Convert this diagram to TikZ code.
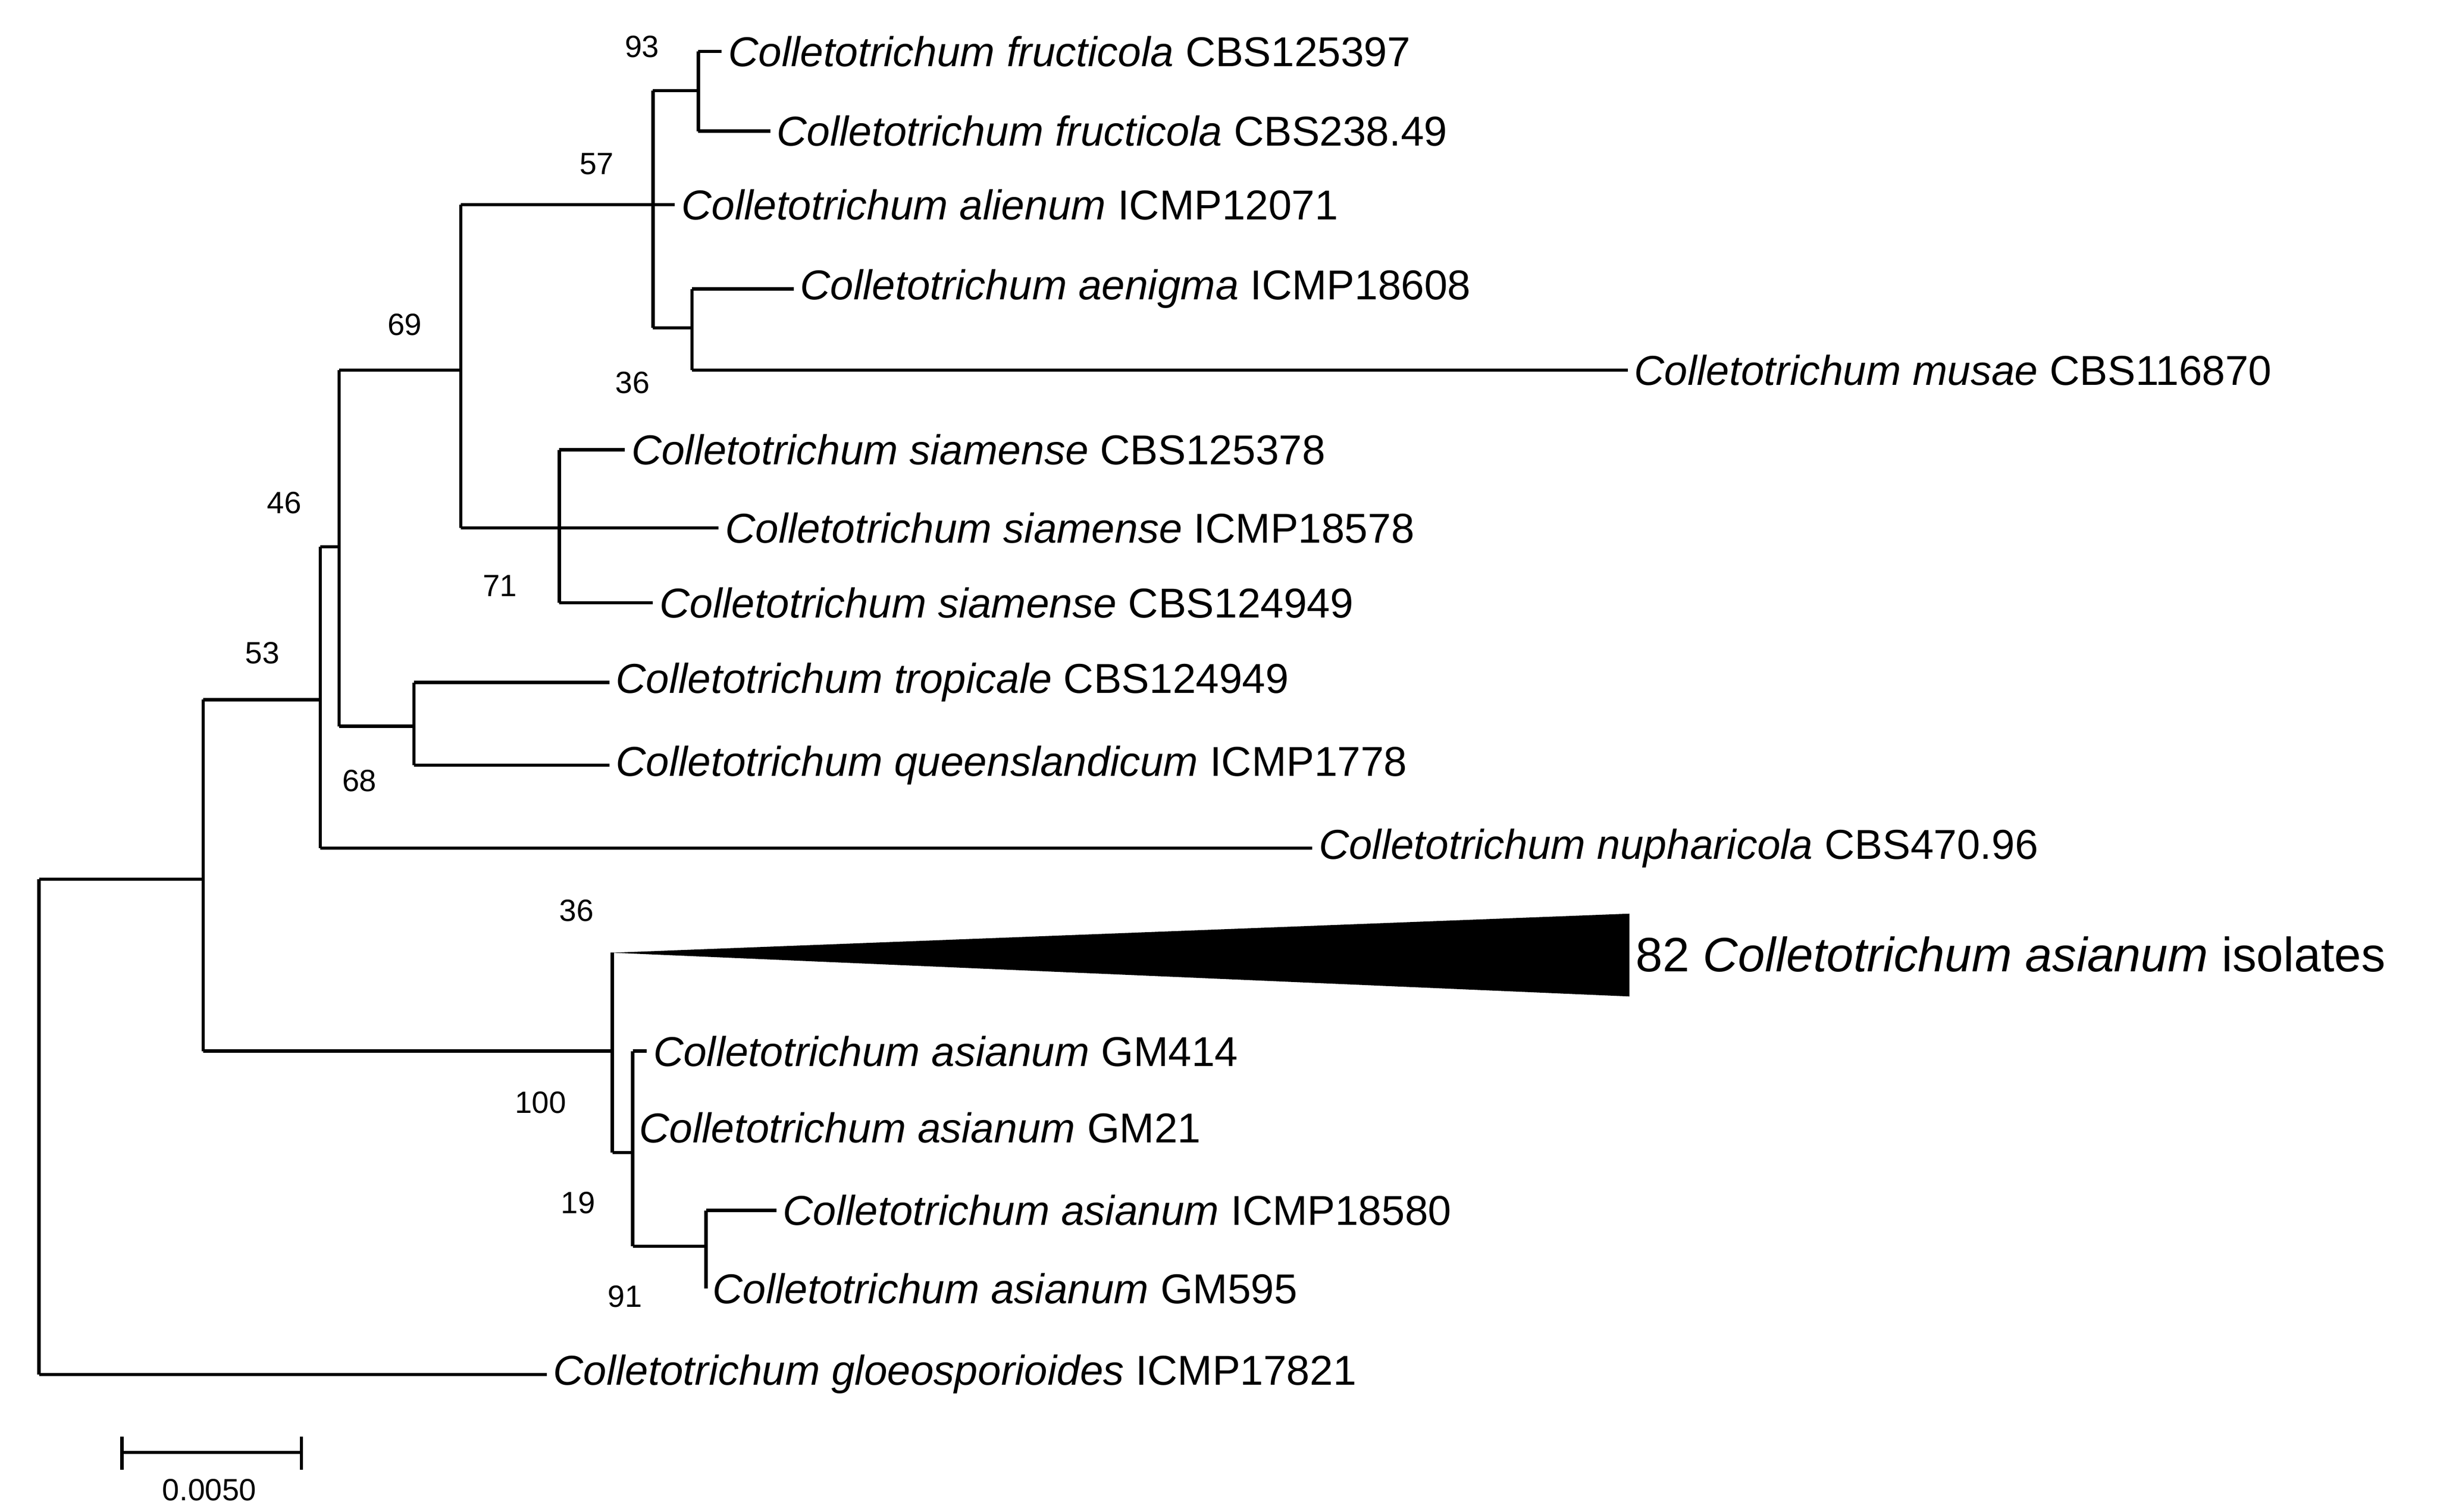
\documentclass[tikz,border=0pt]{standalone}
\usepackage{fontspec}
\setmainfont{Liberation Sans}
\begin{document}
\begin{tikzpicture}[x=0.01cm,y=-0.01cm,
  tx/.style={anchor=west,inner sep=1pt,font=\fontsize{7.6}{9}\selectfont},
  bs/.style={font=\fontsize{5.6}{7}\selectfont,inner sep=0pt},
  br/.style={line width=0.6pt}]
\useasboundingbox (0,0) rectangle (1560,968);
% internal nodes
\coordinate (R) at (25,563); \coordinate (Rb) at (25,880);
\coordinate (A0) at (130,448); \coordinate (A1) at (130,673);
\coordinate (B0) at (205,350); \coordinate (B1) at (205,543);
\coordinate (C0) at (217,237); \coordinate (C1) at (217,465);
\coordinate (D0) at (295,131); \coordinate (D1) at (295,338);
\coordinate (E0) at (418,58); \coordinate (E1) at (418,210);
\coordinate (G0) at (447,33); \coordinate (G1) at (447,84);
\coordinate (H0) at (443,185); \coordinate (H1) at (443,237);
\coordinate (F0) at (358,288); \coordinate (F1) at (358,386);
\coordinate (T0) at (265,437); \coordinate (T1) at (265,490);
\coordinate (I0) at (392,610); \coordinate (I1) at (392,738);
\coordinate (J0) at (405,673); \coordinate (J1) at (405,798);
\coordinate (K0) at (452,775); \coordinate (K1) at (452,825);
% taxa
\node[tx] (t1) at (462,33) {\textit{Colletotrichum fructicola} CBS125397};
\node[tx] (t2) at (493,84) {\textit{Colletotrichum fructicola} CBS238.49};
\node[tx] (t3) at (432,131) {\textit{Colletotrichum alienum} ICMP12071};
\node[tx] (t4) at (508,185) {\textit{Colletotrichum aenigma} ICMP18608};
\node[tx] (t5) at (1042,237) {\textit{Colletotrichum musae} CBS116870};
\node[tx] (t6) at (400,288) {\textit{Colletotrichum siamense} CBS125378};
\node[tx] (t7) at (460,338) {\textit{Colletotrichum siamense} ICMP18578};
\node[tx] (t8) at (418,386) {\textit{Colletotrichum siamense} CBS124949};
\node[tx] (t9) at (390,437) {\textit{Colletotrichum tropicale} CBS124949};
\node[tx] (t10) at (390,490) {\textit{Colletotrichum queenslandicum} ICMP1778};
\node[tx] (t11) at (840,543) {\textit{Colletotrichum nupharicola} CBS470.96};
\node[tx,font=\fontsize{8.8}{10}\selectfont] (t12) at (1043,611) {82 \textit{Colletotrichum asianum} isolates};
\node[tx] (t13) at (414,673) {\textit{Colletotrichum asianum} GM414};
\node[tx] (t14) at (405,722) {\textit{Colletotrichum asianum} GM21};
\node[tx] (t15) at (497,775) {\textit{Colletotrichum asianum} ICMP18580};
\node[tx] (t16) at (452,825) {\textit{Colletotrichum asianum} GM595};
\node[tx] (t17) at (350,880) {\textit{Colletotrichum gloeosporioides} ICMP17821};
% verticals
\foreach \a/\b in {R/Rb,A0/A1,B0/B1,C0/C1,D0/D1,E0/E1,G0/G1,H0/H1,F0/F1,T0/T1,I0/I1,J0/J1,K0/K1}
  \draw[br] (\a) -- (\b);
% internal horizontals
\draw[br] (R) -- (A0|-R);
\draw[br] (A0) -- (B0|-A0);
\draw[br] (A1) -- (I0|-A1);
\draw[br] (B0) -- (C0|-B0);
\draw[br] (C0) -- (D0|-C0);
\draw[br] (C1) -- (T0|-C1);
\draw[br] (D0) -- (E0|-D0);
\draw[br] (D1) -- (F0|-D1);
\draw[br] (E0) -- (G0|-E0);
\draw[br] (E1) -- (H0|-E1);
\draw[br] (I1) -- (J0|-I1);
\draw[br] (J1) -- (K0|-J1);
% leaf edges
\foreach \n/\t in {G0/t1,G1/t2,H0/t4,H1/t5,F0/t6,F1/t8,T0/t9,T1/t10,K0/t15,K1/t16,J0/t13}
  \draw[br] (\n) -- (\t.west);
\draw[br] (E0|-t3) -- (t3.west);
\draw[br] (F0|-t7) -- (t7.west);
\draw[br] (B1) -- (t11.west);
\draw[br] (Rb) -- (t17.west);
\draw[br] (J0|-t14) -- (t14.west);
% collapsed clade
\fill (I0) -- (1043,585) -- (1043,638) -- cycle;
% bootstrap
\node[bs] (b93) at (411,30) {93};
\node[bs] (b57) at (382,105) {57};
\node[bs] (b36a) at (405,245) {36};
\node[bs] (b69) at (259,208) {69};
\node[bs] (b71) at (320,375) {71};
\node[bs] (b46) at (182,322) {46};
\node[bs] (b68) at (230,500) {68};
\node[bs] (b53) at (168,418) {53};
\node[bs] (b36b) at (369,583) {36};
\node[bs] (b100) at (346,706) {100};
\node[bs] (b19) at (370,770) {19};
\node[bs] (b91) at (400,830) {91};
% scale bar
\coordinate (s0) at (78,930); \coordinate (s1) at (193,930);
\draw[br] (s0) -- (s1);
\draw[br] (78,920) -- (78,941);
\draw[br] (193,920) -- (193,941);
\node[bs] (sl) at (134,954) {0.0050};
\end{tikzpicture}
\end{document}
